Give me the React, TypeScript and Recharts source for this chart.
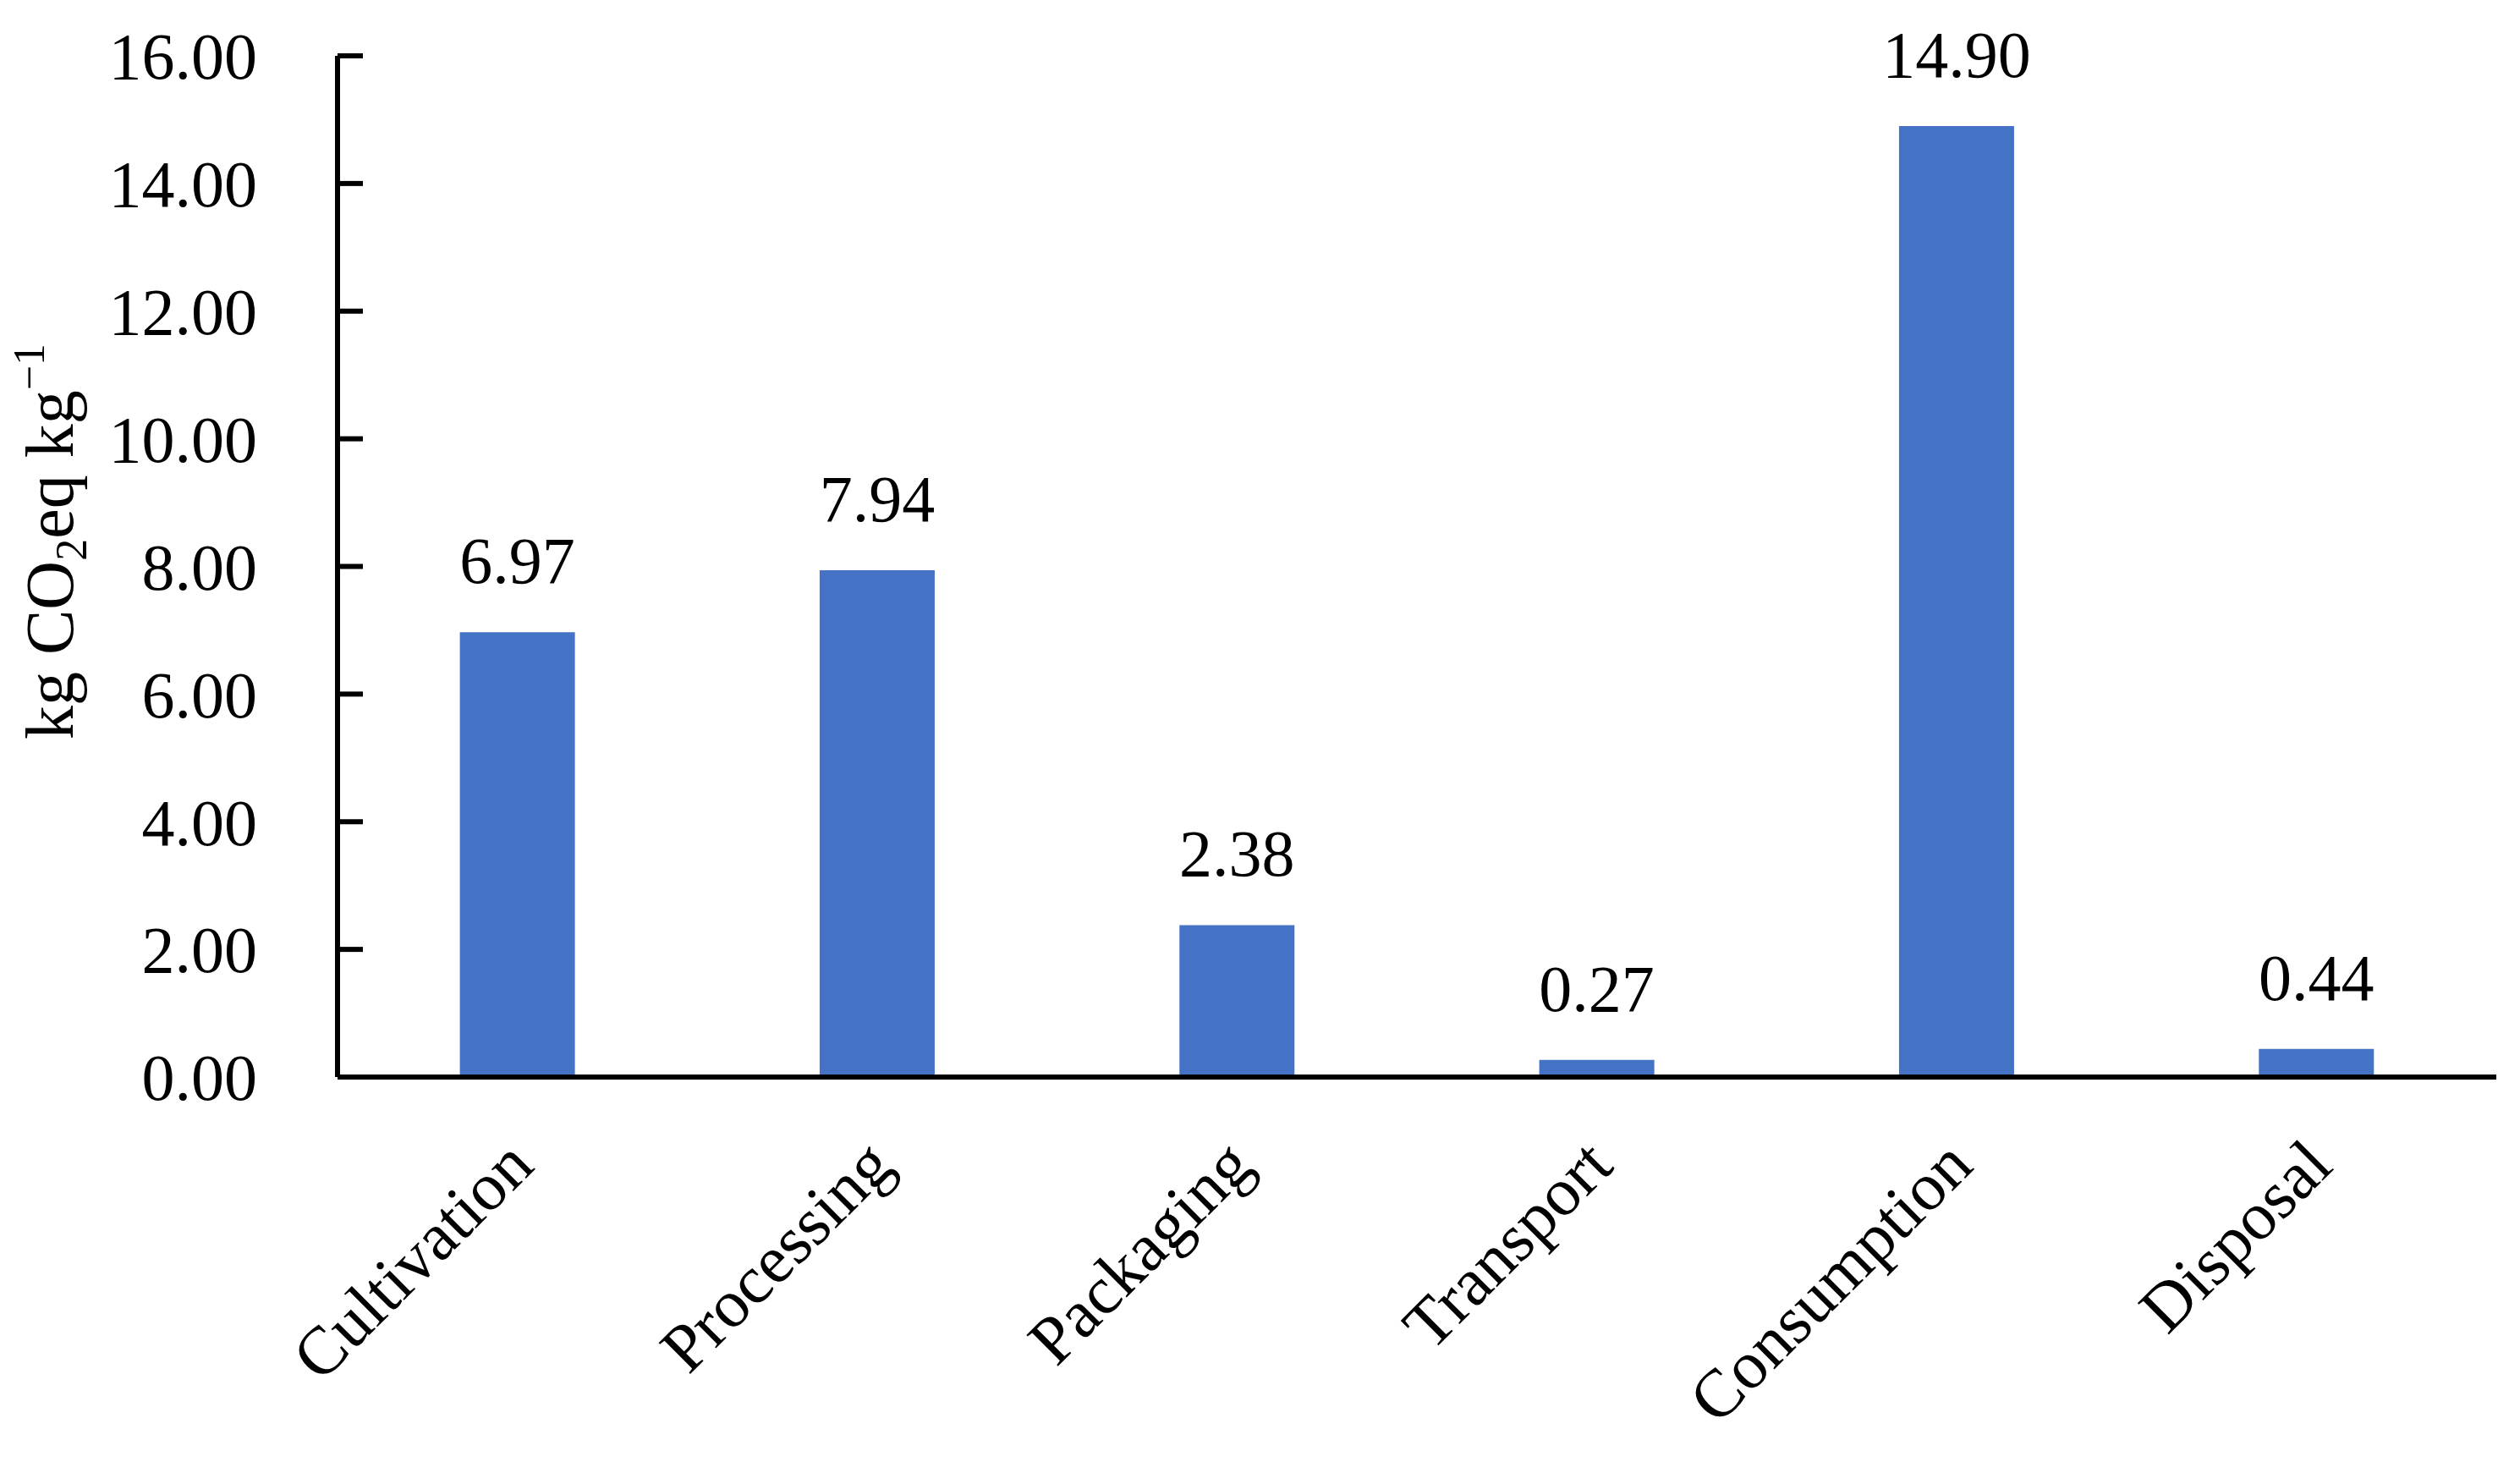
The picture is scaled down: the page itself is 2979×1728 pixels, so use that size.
import { Bar, BarChart, LabelList, XAxis, YAxis } from 'recharts';

const stages = ['Cultivation', 'Processing', 'Packaging', 'Transport', 'Consumption', 'Disposal'];
const emissions = [6.97, 7.94, 2.38, 0.27, 14.9, 0.44];
const yTicks = [0, 2, 4, 6, 8, 10, 12, 14, 16];

const data = stages.map((stage, i) => ({ stage, value: emissions[i] }));

const FONT = "'Palatino Linotype', 'Book Antiqua', Palatino, 'Liberation Serif', serif";

const YTick = (props: any) => {
  const { x, y, payload } = props;
  return (
    <g>
      <line x1={x} y1={y} x2={x + 30} y2={y} stroke='#000' strokeWidth={6} />
      <text x={x - 95} y={y} dy='0.35em' textAnchor='end' fontSize={78} fontFamily={FONT} fill='#000'>
        {Number(payload.value).toFixed(2)}
      </text>
    </g>
  );
};

const XTick = (props: any) => {
  const { x, y, payload } = props;
  const tx = x + 22;
  const ty = y + 108;
  return (
    <text
      x={tx}
      y={ty}
      textAnchor='end'
      transform={`rotate(-45, ${tx}, ${ty})`}
      fontSize={80}
      fontFamily={FONT}
      fill='#000'
    >
      {payload.value}
    </text>
  );
};

// y axis title, drawn by hand so the sub/superscripts sit right
const YLabel = () => {
  const lx = 86;
  const ly = 640;
  return (
    <text
      x={lx}
      y={ly}
      transform={`rotate(-90, ${lx}, ${ly})`}
      textAnchor='middle'
      fontSize={80}
      fontFamily={FONT}
      fill='#000'
    >
      kg CO
      <tspan fontSize={52} dy={16}>2</tspan>
      <tspan dy={-16}>eq kg</tspan>
      <tspan fontSize={52} dy={-34}>−1</tspan>
    </text>
  );
};

const App = () => {
  return (
    <div style={{ position: 'absolute', left: 0, top: 0, background: '#fff' }}>
      <BarChart
        width={2979}
        height={1728}
        data={data}
        margin={{ top: 66, right: 28, bottom: 0, left: 0 }}
        barCategoryGap='34%'
      >
        <XAxis
          dataKey='stage'
          height={455}
          axisLine={{ stroke: '#000', strokeWidth: 6 }}
          tickLine={false}
          tickSize={0}
          tickMargin={0}
          interval={0}
          tick={<XTick />}
        />
        <YAxis
          width={399}
          domain={[0, 16]}
          ticks={yTicks}
          interval={0}
          axisLine={{ stroke: '#000', strokeWidth: 6 }}
          tickLine={false}
          tickSize={0}
          tickMargin={0}
          tick={<YTick />}
          label={{ content: () => <YLabel /> }}
        />
        <Bar dataKey='value' fill='#4472C4' isAnimationActive={false}>
          <LabelList
            dataKey='value'
            position='top'
            offset={58}
            formatter={(v: any) => Number(v).toFixed(2)}
            fontSize={78}
            fontFamily={FONT}
            fill='#000'
          />
        </Bar>
      </BarChart>
    </div>
  );
};

export default App;
